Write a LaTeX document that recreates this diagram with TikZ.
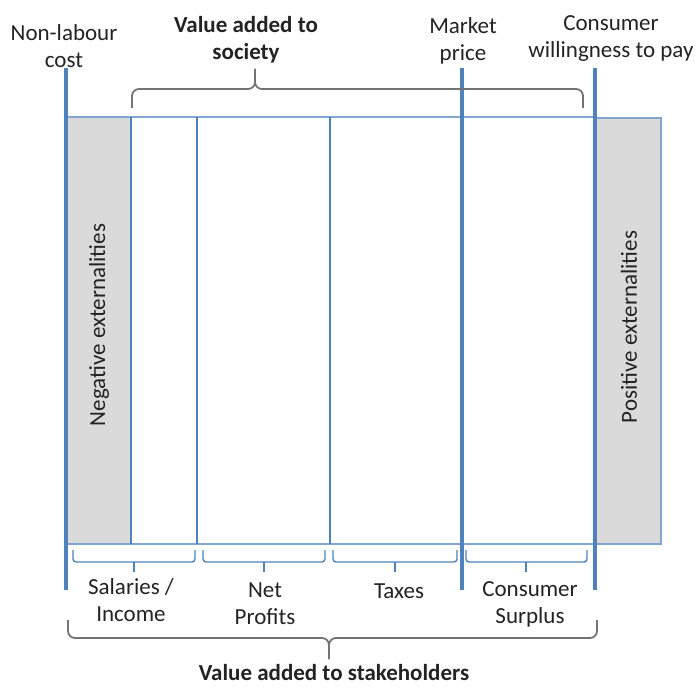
\documentclass[tikz,border=0pt]{standalone}
\usepackage{fontspec}
\setmainfont{Carlito}
\definecolor{lineblue}{RGB}{79,129,189}
\definecolor{edgeblue}{RGB}{130,165,210}
\definecolor{shadegray}{RGB}{218,218,218}
\definecolor{bracegray}{RGB}{115,115,115}
\definecolor{txt}{RGB}{35,35,35}
\tikzset{
  lbl/.style={font=\fontsize{23}{27}\selectfont, text=txt, align=center, inner sep=0pt},
  boldlbl/.style={lbl, font=\fontsize{23}{27}\selectfont\bfseries},
  thickline/.style={draw=lineblue, line width=3.2pt},
  colline/.style={draw=lineblue, line width=1.5pt},
  edge/.style={draw=edgeblue, line width=1.2pt},
  bluebrace/.style={draw=lineblue, line width=1.4pt, rounded corners=3pt},
  graybrace/.style={draw=bracegray, line width=1.8pt, rounded corners=7pt},
}
\begin{document}
\begin{tikzpicture}[x=1pt,y=-1pt]
\useasboundingbox (0,0) rectangle (695,687);
% shaded externalities
\fill[shadegray] (66,117) rectangle (131,544);
\fill[shadegray] (595,118) rectangle (661,544);
% outline
\draw[edge] (66,117) -- (595,117);
\draw[edge] (595,118) -- (661,118) -- (661,544) -- (595,544);
\draw[edge] (66,544) -- (595,544);
% column lines
\draw[colline] (131,117) -- (131,544);
\draw[colline] (197,117) -- (197,544);
\draw[colline] (330,117) -- (330,544);
% thick price lines
\coordinate (nlTop) at (66,68);
\coordinate (nlBot) at (66,590);
\coordinate (mpTop) at (462,68);
\coordinate (mpBot) at (462,590);
\coordinate (cwTop) at (595,68);
\coordinate (cwBot) at (595,590);
\draw[thickline] (nlTop) -- (nlBot);
\draw[thickline] (mpTop) -- (mpBot);
\draw[thickline] (cwTop) -- (cwBot);
% top labels
\node[lbl] (nl) at (64,46) {Non-labour\\cost};
\node[boldlbl] (vas) at (246,40) {Value added to\\society};
\node[lbl] (mp) at (463,41) {Market\\price};
\node[lbl] (cw) at (611,39) {Consumer\\willingness to pay};
% top brace
\draw[graybrace] (132,108) -- (132,89) -- (255,89) -- (255,69);
\draw[graybrace] (255,69) -- (255,89) -- (583,89) -- (583,108);
% rotated labels
\node[lbl, rotate=90] (neg) at (99,325) {Negative externalities};
\node[lbl, rotate=90] (pos) at (629,327) {Positive externalities};
% bottom blue brackets
\draw[bluebrace] (73,550) -- (73,562) -- (195,562) -- (195,550);
\draw[colline, line width=1.4pt] (134,562) -- (134,572);
\draw[bluebrace] (203,550) -- (203,562) -- (325,562) -- (325,550);
\draw[colline, line width=1.4pt] (264,562) -- (264,572);
\draw[bluebrace] (333,550) -- (333,562) -- (457,562) -- (457,550);
\draw[colline, line width=1.4pt] (395,562) -- (395,572);
\draw[bluebrace] (466,550) -- (466,562) -- (587,562) -- (587,550);
\draw[colline, line width=1.4pt] (526,562) -- (526,572);
% bottom labels
\node[lbl] (sal) at (131,600) {Salaries /\\Income};
\node[lbl] (np) at (265,604) {Net\\Profits};
\node[lbl] (tax) at (399,591) {Taxes};
\node[lbl] (cs) at (530,604) {Consumer\\Surplus};
% bottom gray brace
\draw[graybrace] (68,620) -- (68,638) -- (329,638) -- (329,659);
\draw[graybrace] (329,659) -- (329,638) -- (597,638) -- (597,620);
\node[boldlbl] (vst) at (334,673) {Value added to stakeholders};
\end{tikzpicture}
\end{document}
